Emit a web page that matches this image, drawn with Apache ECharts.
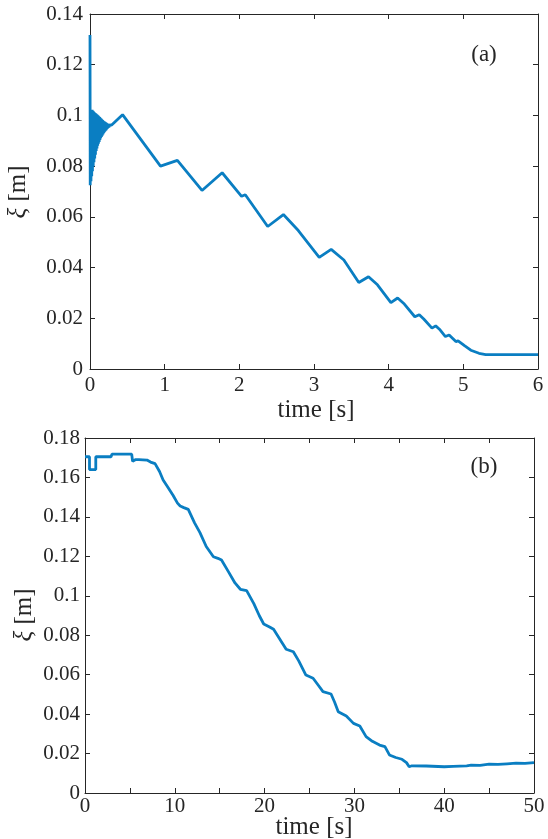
<!DOCTYPE html>
<html>
<head>
<meta charset="utf-8">
<script src="https://cdn.jsdelivr.net/npm/echarts@6/dist/echarts.min.js"></script>
<style>html,body{margin:0;padding:0;background:#fff;}#c{width:548px;height:839px;}</style>
</head>
<body>
<div id="c"></div>
<script>
// Panel (a): time [s] vs xi [m]
const timeA = [0,0.003,0.008,0.013,0.018,0.023,0.028,0.033,0.038,0.043,0.048,0.053,0.058,0.063,0.068,0.073,0.078,0.083,0.088,0.093,0.098,0.103,0.108,0.113,0.118,0.123,0.128,0.133,0.138,0.143,0.148,0.153,0.158,0.163,0.168,0.173,0.178,0.183,0.188,0.193,0.198,0.203,0.208,0.213,0.218,0.223,0.228,0.233,0.238,0.243,0.248,0.255,0.262,0.270,0.280,0.290,
  0.436,0.944,1.17,1.50,1.77,2.03,2.08,2.38,2.59,2.79,3.07,3.23,3.40,3.60,3.73,3.85,4.03,4.12,4.21,4.35,4.41,4.47,4.58,4.63,4.68,4.76,4.81,4.90,4.93,5.02,5.10,5.21,5.30,6.0];
const xiA = [0.1317,0.0725,0.1005,0.0740,0.1020,0.0760,0.1022,0.0780,0.1018,0.0800,0.1015,0.0815,0.1012,0.0830,0.1010,0.0845,0.1008,0.0860,0.1005,0.0870,0.1003,0.0880,0.1000,0.0888,0.0997,0.0895,0.0994,0.0903,0.0991,0.0910,0.0988,0.0915,0.0985,0.0920,0.0982,0.0925,0.0979,0.0930,0.0977,0.0934,0.0975,0.0938,0.0973,0.0941,0.0971,0.0945,0.0969,0.0948,0.0967,0.0951,0.0965,0.0954,0.0963,0.0957,0.0961,0.0962,
  0.1003,0.0800,0.0823,0.0704,0.0774,0.0681,0.0687,0.0562,0.0609,0.0546,0.0440,0.0472,0.0430,0.0341,0.0364,0.0332,0.0262,0.0280,0.0256,0.0206,0.0214,0.0197,0.0161,0.0170,0.0157,0.0128,0.0134,0.0108,0.0111,0.0091,0.0074,0.0062,0.0057,0.0057];

// Panel (b): time [s] vs xi [m]
const timeB = [0,0.5,0.5,1.2,1.2,2.9,3.0,5.2,5.3,5.6,6.0,6.9,7.3,7.8,8.3,8.7,9.3,9.8,10.3,10.6,11.0,11.5,12.2,12.8,13.5,14.3,14.8,15.2,16.0,16.7,17.3,18.0,18.8,19.4,19.9,20.5,21.0,21.7,22.4,23.2,23.8,24.6,25.4,26.0,26.5,27.4,27.8,28.2,29.1,29.9,30.6,31.3,32.0,32.8,33.4,33.9,34.6,35.3,35.8,36.1,36.4,38,40,41,42.5,43,44,45,46,47,48,49,50];
const xiB = [0.1705,0.1705,0.1640,0.1640,0.1705,0.1705,0.1718,0.1718,0.1682,0.1690,0.1690,0.1688,0.1678,0.1670,0.1630,0.1587,0.1545,0.1510,0.1470,0.1455,0.1447,0.1438,0.1370,0.1320,0.1250,0.1198,0.1190,0.1181,0.1120,0.1065,0.1033,0.1026,0.0960,0.0900,0.0857,0.0843,0.0830,0.0780,0.0729,0.0716,0.0670,0.0598,0.0582,0.0545,0.0514,0.0502,0.0460,0.0412,0.0390,0.0353,0.0340,0.0286,0.0262,0.0243,0.0235,0.0193,0.0180,0.0171,0.0154,0.0133,0.0138,0.0137,0.0133,0.0135,0.0138,0.0141,0.0140,0.0146,0.0145,0.0148,0.0151,0.0150,0.0154];

const xLabel = 'time [s]';
const yLabel = '{i|ξ} [m]';
const panelA = '(a)';
const panelB = '(b)';

const FONT = '"Liberation Serif", "DejaVu Serif", serif';
const TXT = '#262626';
const LINE = '#0a7ec2';

function pairs(xs, ys){ return xs.map((x,i)=>[x, ys[i]]); }
function fmtY(v){ return String(parseFloat(v.toFixed(2))); }

function axisCommon(extra){
  return Object.assign({
    type:'value',
    axisLine:{show:true, onZero:false, lineStyle:{color:TXT, width:1}},
    axisTick:{show:true, inside:true, length:5, lineStyle:{color:TXT, width:1}},
    splitLine:{show:false},
    axisLabel:{color:TXT, fontFamily:FONT, fontSize:21}
  }, extra);
}

const option = {
  animation:false,
  backgroundColor:'#fff',
  grid:[
    {left:90, top:14, width:448, height:355},
    {left:85, top:438, width:449, height:355}
  ],
  xAxis:[
    axisCommon({gridIndex:0, position:'bottom', min:0, max:6, interval:1, axisLabel:{color:TXT, fontFamily:FONT, fontSize:21, margin:6}}),
    axisCommon({gridIndex:0, position:'top', min:0, max:6, interval:1, axisLabel:{show:false}}),
    axisCommon({gridIndex:1, position:'bottom', min:0, max:50, interval:5, axisLabel:{color:TXT, fontFamily:FONT, fontSize:21, margin:3, formatter:v=> (v%10===0? String(v):'')}}),
    axisCommon({gridIndex:1, position:'top', min:0, max:50, interval:5, axisLabel:{show:false}})
  ],
  yAxis:[
    axisCommon({gridIndex:0, position:'left', min:0, max:0.14, interval:0.02, axisLabel:{color:TXT, fontFamily:FONT, fontSize:21, margin:7, formatter:fmtY}}),
    axisCommon({gridIndex:0, position:'right', min:0, max:0.14, interval:0.02, axisLabel:{show:false}}),
    axisCommon({gridIndex:1, position:'left', min:0, max:0.18, interval:0.02, axisLabel:{color:TXT, fontFamily:FONT, fontSize:21, margin:5, formatter:fmtY}}),
    axisCommon({gridIndex:1, position:'right', min:0, max:0.18, interval:0.02, axisLabel:{show:false}})
  ],
  series:[
    {type:'line', xAxisIndex:0, yAxisIndex:0, data:pairs(timeA, xiA), showSymbol:false, symbol:'none',
     lineStyle:{color:LINE, width:2.8}, clip:true},
    {type:'line', xAxisIndex:2, yAxisIndex:2, data:pairs(timeB, xiB), showSymbol:false, symbol:'none',
     lineStyle:{color:LINE, width:2.8}, clip:true}
  ],
  graphic:[
    {type:'text', x:316, y:410, style:{text:xLabel, font:'25px '+FONT, fill:TXT, align:'center', verticalAlign:'middle', textAlign:'center', textVerticalAlign:'middle'}},
    {type:'text', x:314, y:827, style:{text:xLabel, font:'25px '+FONT, fill:TXT, align:'center', verticalAlign:'middle', textAlign:'center', textVerticalAlign:'middle'}},
    {type:'text', x:18, y:192, rotation:Math.PI/2, style:{text:yLabel, font:'25px '+FONT, fill:TXT, align:'center', verticalAlign:'middle', textAlign:'center', textVerticalAlign:'middle', rich:{i:{fontStyle:'italic', fontFamily:FONT, fontSize:25, fill:TXT}}}},
    {type:'text', x:24, y:615, rotation:Math.PI/2, style:{text:yLabel, font:'25px '+FONT, fill:TXT, align:'center', verticalAlign:'middle', textAlign:'center', textVerticalAlign:'middle', rich:{i:{fontStyle:'italic', fontFamily:FONT, fontSize:25, fill:TXT}}}},
    {type:'text', x:484, y:55, style:{text:panelA, font:'23px '+FONT, fill:TXT, align:'center', verticalAlign:'middle', textAlign:'center', textVerticalAlign:'middle'}},
    {type:'text', x:484, y:467, style:{text:panelB, font:'23px '+FONT, fill:TXT, align:'center', verticalAlign:'middle', textAlign:'center', textVerticalAlign:'middle'}}
  ]
};

const chart = echarts.init(document.getElementById('c'), null, {renderer:'canvas'});
chart.setOption(option);
</script>
</body>
</html>
